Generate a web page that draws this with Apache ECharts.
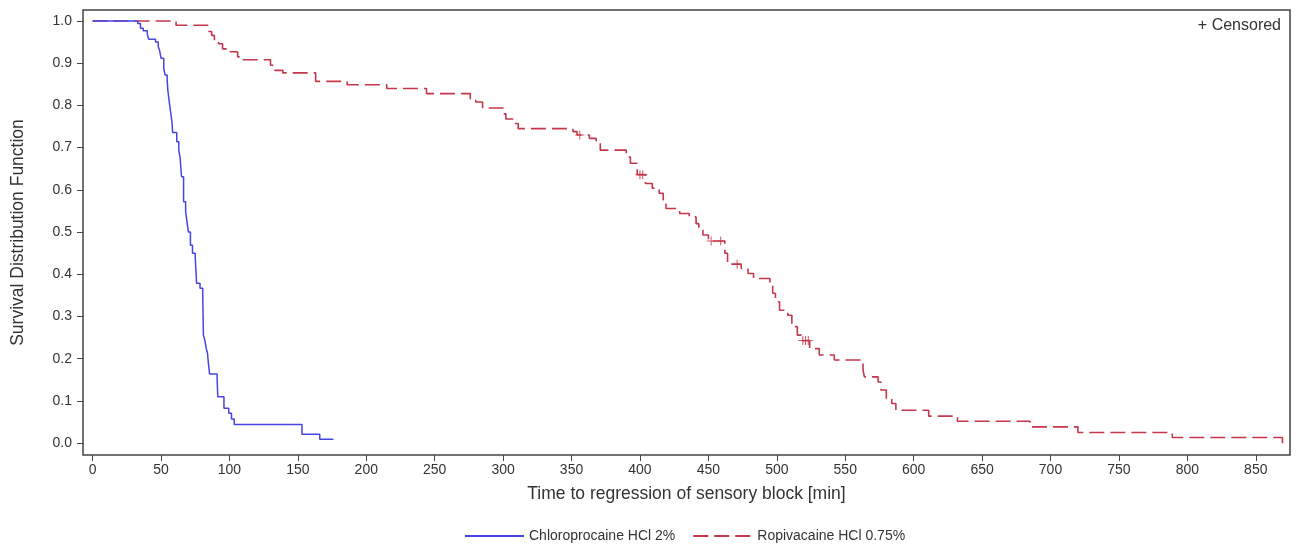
<!DOCTYPE html>
<html>
<head>
<meta charset="utf-8">
<script src="https://cdn.jsdelivr.net/npm/echarts@6/dist/echarts.min.js"></script>
<style>
html,body{margin:0;padding:0;background:#fff;}
#chart{width:1298px;height:544px;}
</style>
</head>
<body>
<div id="chart"></div>
<script>
// Kaplan-Meier step data: time (min) at which survival changes, and survival after that time
const chloroTimes = [0, 33, 35, 37, 40, 41, 46, 48, 49, 50, 52, 53, 54.5, 55, 56, 57, 58, 58.5, 61.5, 63, 64, 65, 66.5, 68, 69, 70, 71.5, 73, 75, 76, 78.5, 80.5, 81, 82, 83, 84, 84.5, 85.5, 91, 91.5, 96, 99.5, 101.5, 103.5, 153, 166, 176];
const chloroSurv  = [1.0, 0.994, 0.983, 0.977, 0.968, 0.957, 0.95, 0.939, 0.93, 0.912, 0.888, 0.872, 0.86, 0.836, 0.809, 0.785, 0.761, 0.736, 0.714, 0.694, 0.675, 0.631, 0.572, 0.548, 0.524, 0.5, 0.469, 0.45, 0.441, 0.379, 0.367, 0.347, 0.256, 0.244, 0.225, 0.213, 0.193, 0.164, 0.154, 0.11, 0.083, 0.071, 0.057, 0.044, 0.021, 0.0095, 0.0095];

const ropiTimes = [0, 61, 85, 87, 89, 92, 95, 99, 106, 108, 130, 132, 139, 163, 186, 215, 244, 276, 280, 285, 300, 302, 307, 311, 351, 354, 363, 368, 371, 390, 393, 398, 404, 409, 414, 417, 419, 429, 436, 441, 443, 446, 450, 462, 464, 474, 479, 483, 495, 497, 499, 502, 508, 511, 515, 518, 524, 531, 542, 563, 564, 574, 576, 580, 584, 587, 611, 632, 685, 720, 789, 869.5];
const ropiSurv  = [1.0, 0.99, 0.975, 0.966, 0.954, 0.946, 0.934, 0.927, 0.915, 0.908, 0.895, 0.883, 0.877, 0.857, 0.849, 0.84, 0.828, 0.816, 0.808, 0.794, 0.78, 0.768, 0.757, 0.745, 0.738, 0.73, 0.722, 0.714, 0.694, 0.678, 0.663, 0.636, 0.615, 0.604, 0.592, 0.576, 0.556, 0.544, 0.536, 0.52, 0.509, 0.493, 0.479, 0.45, 0.424, 0.414, 0.402, 0.39, 0.378, 0.355, 0.335, 0.315, 0.303, 0.276, 0.256, 0.243, 0.224, 0.209, 0.197, 0.173, 0.157, 0.145, 0.126, 0.106, 0.094, 0.078, 0.064, 0.052, 0.0387, 0.0254, 0.0135, 0.0];

const censorTimes = [356, 400, 402, 452, 459, 471, 519, 521, 523];
const censorSurv  = [0.73, 0.636, 0.636, 0.479, 0.479, 0.424, 0.243, 0.243, 0.243];

const xTicks = [0, 50, 100, 150, 200, 250, 300, 350, 400, 450, 500, 550, 600, 650, 700, 750, 800, 850];
const yTicks = [0, 0.1, 0.2, 0.3, 0.4, 0.5, 0.6, 0.7, 0.8, 0.9, 1.0];

const seriesNames = ['Chloroprocaine HCl 2%', 'Ropivacaine HCl 0.75%'];
const xTitle = 'Time to regression of sensory block [min]';
const yTitle = 'Survival Distribution Function';

const zip = (a, b) => a.map((v, i) => [v, b[i]]);

const FONT = 'Liberation Sans';
const BLUE = '#4545e4';
const RED = '#c5384c';
const AXIS = '#444';
const plusPath = 'path://M4.4,0 H5.6 V4.4 H10 V5.6 H5.6 V10 H4.4 V5.6 H0 V4.4 H4.4 Z';

const chart = echarts.init(document.getElementById('chart'), null, {renderer: 'canvas'});
chart.setOption({
  animation: false,
  backgroundColor: '#fff',
  textStyle: {fontFamily: FONT},
  grid: {
    left: 83, right: 8, top: 10, bottom: 89,
    show: true, borderColor: AXIS, borderWidth: 1.5, backgroundColor: '#fff'
  },
  xAxis: {
    type: 'value', min: -7, max: 875,
    name: xTitle, nameLocation: 'middle', nameGap: 30,
    nameTextStyle: {fontSize: 17.5, color: '#333', fontFamily: FONT},
    axisLine: {show: false, onZero: false},
    splitLine: {show: false},
    axisTick: {show: true, length: 6, customValues: xTicks, lineStyle: {color: AXIS, width: 1}},
    axisLabel: {customValues: xTicks, fontSize: 14, color: '#333', margin: 8, fontFamily: FONT}
  },
  yAxis: {
    type: 'value', min: -0.028, max: 1.026,
    name: yTitle, nameLocation: 'middle', nameGap: 56, nameRotate: 90,
    nameTextStyle: {fontSize: 17.5, color: '#333', fontFamily: FONT},
    axisLine: {show: false, onZero: false},
    splitLine: {show: false},
    axisTick: {show: true, length: 6, customValues: yTicks, lineStyle: {color: AXIS, width: 1}},
    axisLabel: {customValues: yTicks, fontSize: 14, color: '#333', margin: 11, fontFamily: FONT,
      formatter: v => Number(v).toFixed(1)}
  },
  legend: {
    left: 459, top: 524,
    itemWidth: 59, itemHeight: 14, itemGap: 17,
    itemStyle: {opacity: 0},
    textStyle: {fontSize: 14, color: '#333', fontFamily: FONT},
    data: seriesNames
  },
  graphic: [{
    type: 'text', right: 17, top: 18,
    style: {text: '+ Censored', fontSize: 16, fill: '#333', fontFamily: FONT}
  }],
  series: [
    {
      name: seriesNames[0], type: 'line', step: 'end', showSymbol: false, symbol: 'none',
      data: zip(chloroTimes, chloroSurv), z: 3,
      lineStyle: {color: BLUE, width: 1.5}, itemStyle: {color: BLUE}
    },
    {
      name: seriesNames[1], type: 'line', step: 'end', showSymbol: false, symbol: 'none',
      data: zip(ropiTimes, ropiSurv), z: 2,
      lineStyle: {color: RED, width: 1.6, type: [15, 6]}, itemStyle: {color: RED}
    },
    {
      name: 'Censored', type: 'scatter', symbol: plusPath, symbolSize: 9,
      data: zip(censorTimes, censorSurv), z: 4,
      itemStyle: {color: RED}
    }
  ]
});
</script>
</body>
</html>
